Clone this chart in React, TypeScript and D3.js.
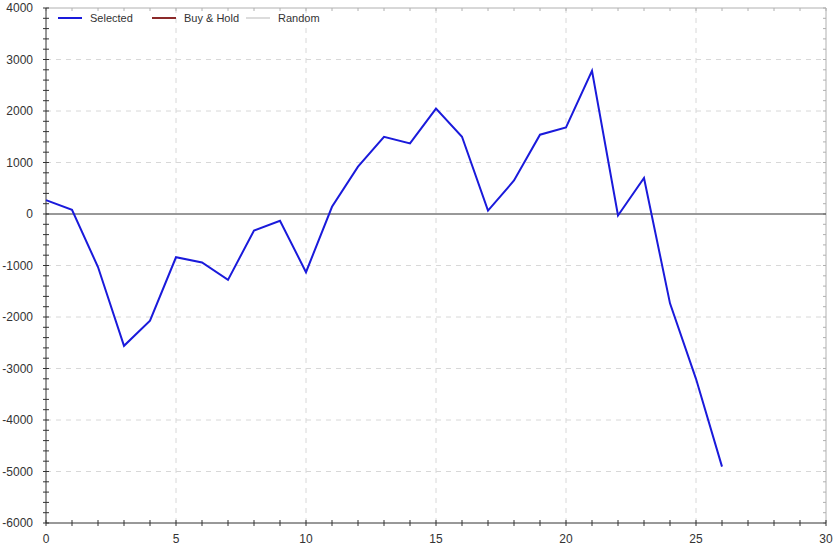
import React from "react";
import * as d3 from "d3";

const xValues = [0,1,2,3,4,5,6,7,8,9,10,11,12,13,14,15,16,17,18,19,20,21,22,23,24,25,26];
const selected = [270,80,-1030,-2560,-2070,-840,-940,-1280,-320,-130,-1130,140,920,1500,1370,2045,1500,65,650,1540,1680,2780,-30,700,-1735,-3200,-4905];
const xTicks = [0,5,10,15,20,25,30];
const yTicks = [-6000,-5000,-4000,-3000,-2000,-1000,0,1000,2000,3000,4000];
const legendItems = [
  { label: "Selected", color: "#1a1adb" },
  { label: "Buy & Hold", color: "#8b2a2a" },
  { label: "Random", color: "#dcdcdc" },
];

export default function App() {
  const W = 839, H = 548;
  const left = 46, right = 826, top = 8, bottom = 523;
  const x = d3.scaleLinear().domain([0, 30]).range([left, right]);
  const y = d3.scaleLinear().domain([-6000, 4000]).range([bottom, top]);
  const line = d3.line<number>().x((_, i) => x(xValues[i])).y((d) => y(d));
  const xMinor = d3.range(0, 31, 1);
  const yMinor = d3.range(-6000, 4001, 200);
  const font = "Arial, 'Liberation Sans', sans-serif";
  return (
    <svg width={W} height={H} style={{ position: "absolute", left: 0, top: 0, background: "#fff" }}>
      {/* grid */}
      {xTicks.slice(1, -1).map((t) => (
        <line key={"gx" + t} x1={x(t)} x2={x(t)} y1={top} y2={bottom} stroke="#d8d8d8" strokeDasharray="5,5" />
      ))}
      {yTicks.slice(1, -1).filter((t) => t !== 0).map((t) => (
        <line key={"gy" + t} x1={left} x2={right} y1={y(t)} y2={y(t)} stroke="#d8d8d8" strokeDasharray="5,5" />
      ))}
      {/* frame top/right */}
      <line x1={left} x2={right} y1={top} y2={top} stroke="#b0b0b0" />
      <line x1={right} x2={right} y1={top} y2={bottom} stroke="#b0b0b0" />
      {xMinor.map((t) => (
        <line key={"tt" + t} x1={x(t)} x2={x(t)} y1={top} y2={top + 3} stroke="#b0b0b0" />
      ))}
      {yMinor.map((t) => (
        <line key={"rt" + t} x1={right} x2={right - 3} y1={y(t)} y2={y(t)} stroke="#b0b0b0" />
      ))}
      {/* zero line */}
      <line x1={left} x2={right} y1={y(0)} y2={y(0)} stroke="#333" strokeWidth={1} />
      {/* axes */}
      <line x1={left} x2={left} y1={top} y2={bottom} stroke="#333" />
      <line x1={left} x2={right} y1={bottom} y2={bottom} stroke="#333" />
      {yMinor.map((t) => (
        <line key={"yt" + t} x1={left - 3} x2={left + 3} y1={y(t)} y2={y(t)} stroke="#333" />
      ))}
      {xMinor.map((t) => (
        <line key={"xt" + t} x1={x(t)} x2={x(t)} y1={bottom - 3} y2={bottom + 3} stroke="#333" />
      ))}
      {yTicks.map((t) => (
        <text key={"yl" + t} x={left - 13} y={y(t)} dy="0.35em" textAnchor="end" fontFamily={font} fontSize={12} fill="#333">{t}</text>
      ))}
      {xTicks.map((t) => (
        <text key={"xl" + t} x={x(t)} y={bottom + 20} textAnchor="middle" fontFamily={font} fontSize={12} fill="#333">{t}</text>
      ))}
      {/* series */}
      <path d={line(selected) || ""} fill="none" stroke="#1a1adb" strokeWidth={2} strokeLinejoin="miter" />
      {/* legend */}
      {legendItems.map((it, i) => {
        const lx = 58 + i * 94;
        return (
          <g key={it.label}>
            <line x1={lx} x2={lx + 24} y1={18} y2={18} stroke={it.color} strokeWidth={2} />
            <text x={lx + 32} y={18} dy="0.35em" fontFamily={font} fontSize={11} fill="#333">{it.label}</text>
          </g>
        );
      })}
    </svg>
  );
}
